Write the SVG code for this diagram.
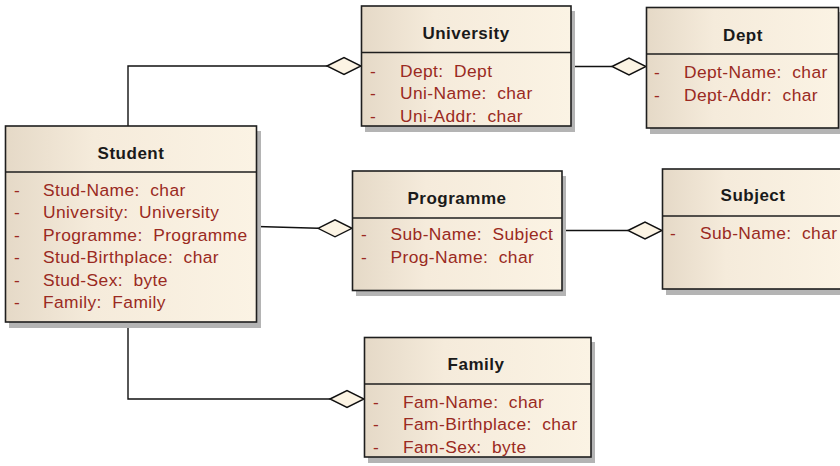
<svg xmlns="http://www.w3.org/2000/svg" width="840" height="466" viewBox="0 0 840 466">
<defs>
<linearGradient id="g" x1="0" y1="0" x2="1" y2="0">
<stop offset="0" stop-color="#e5d9c7"/>
<stop offset="0.35" stop-color="#f5ebdb"/>
<stop offset="1" stop-color="#fbf3e4"/>
</linearGradient>
</defs>
<style>
.box{fill:url(#g);stroke:#1e1e1e;stroke-width:1.6}
.sh{fill:#b4b4b4}
.div{stroke:#1e1e1e;stroke-width:1.6}
.t{font-family:"Liberation Sans",Arial,sans-serif;font-size:17px;font-weight:bold;fill:#1a1a1a;text-anchor:middle;letter-spacing:0.5px}
.a{font-family:"Liberation Sans",Arial,sans-serif;font-size:17.4px;fill:#9a2a22;white-space:pre;letter-spacing:0.4px}
.c{fill:none;stroke:#111;stroke-width:1.4}
.d{fill:#fcf4e4;stroke:#111;stroke-width:1.4}
</style>
<rect width="840" height="466" fill="#ffffff"/>

<g id="connectors">
<polyline class="c" points="128,126 128,66 327,66"/>
<polygon class="d" points="327,66 344,57.5 361,66 344,74.5"/>
<line class="c" x1="571" y1="66.5" x2="612" y2="66.5"/>
<polygon class="d" points="612,66.5 629,58 646,66.5 629,75"/>
<line class="c" x1="257" y1="226.5" x2="318" y2="228.3"/>
<polygon class="d" points="318,228.3 335,219.8 352,228.3 335,236.8"/>
<line class="c" x1="562" y1="230.5" x2="628" y2="230.5"/>
<polygon class="d" points="628,230.5 645,222 662,230.5 645,239"/>
<polyline class="c" points="128,322 128,399 330,399"/>
<polygon class="d" points="330,399 347,390.5 364,399 347,407.5"/>
</g>

<g id="student">
<rect class="sh" x="9" y="131" width="252" height="197"/>
<rect class="box" x="5.5" y="126" width="251" height="196"/>
<line class="div" x1="5.5" y1="172" x2="256.5" y2="172"/>
<text class="t" x="131" y="158.5">Student</text>
<text class="a" x="14" y="195.5">-</text><text class="a" x="43" y="195.5">Stud-Name:  char</text>
<text class="a" x="14" y="218">-</text><text class="a" x="43" y="218">University:  University</text>
<text class="a" x="14" y="240.5">-</text><text class="a" x="43" y="240.5">Programme:  Programme</text>
<text class="a" x="14" y="263">-</text><text class="a" x="43" y="263">Stud-Birthplace:  char</text>
<text class="a" x="14" y="285.5">-</text><text class="a" x="43" y="285.5">Stud-Sex:  byte</text>
<text class="a" x="14" y="308">-</text><text class="a" x="43" y="308">Family:  Family</text>
</g>

<g id="university">
<rect class="sh" x="365" y="11" width="210" height="121"/>
<rect class="box" x="361.5" y="6" width="209.5" height="120"/>
<line class="div" x1="361.5" y1="52.5" x2="571" y2="52.5"/>
<text class="t" x="466" y="38.5">University</text>
<text class="a" x="370" y="77">-</text><text class="a" x="400" y="77">Dept:  Dept</text>
<text class="a" x="370" y="99">-</text><text class="a" x="400" y="99">Uni-Name:  char</text>
<text class="a" x="370" y="121.5">-</text><text class="a" x="400" y="121.5">Uni-Addr:  char</text>
</g>

<g id="dept">
<rect class="sh" x="650" y="12" width="200" height="122"/>
<rect class="box" x="646.5" y="7.5" width="192" height="120.5"/>
<line class="div" x1="646.5" y1="54" x2="838.5" y2="54"/>
<text class="t" x="743" y="40.5">Dept</text>
<text class="a" x="654" y="77.5">-</text><text class="a" x="684" y="77.5">Dept-Name:  char</text>
<text class="a" x="654" y="100.5">-</text><text class="a" x="684" y="100.5">Dept-Addr:  char</text>
</g>

<g id="programme">
<rect class="sh" x="356" y="176" width="210" height="120"/>
<rect class="box" x="352.5" y="171" width="209.5" height="119.5"/>
<line class="div" x1="352.5" y1="218" x2="562" y2="218"/>
<text class="t" x="457" y="203.5">Programme</text>
<text class="a" x="361" y="240">-</text><text class="a" x="390.5" y="240">Sub-Name:  Subject</text>
<text class="a" x="361" y="263">-</text><text class="a" x="390.5" y="263">Prog-Name:  char</text>
</g>

<g id="subject">
<rect class="sh" x="666" y="174" width="190" height="121"/>
<rect class="box" x="662.5" y="169" width="182" height="120"/>
<line class="div" x1="662.5" y1="216" x2="844" y2="216"/>
<text class="t" x="753" y="201">Subject</text>
<text class="a" x="670" y="238.5">-</text><text class="a" x="700" y="238.5">Sub-Name:  char</text>
</g>

<g id="family">
<rect class="sh" x="368" y="342" width="227" height="121"/>
<rect class="box" x="364.5" y="337.5" width="226.5" height="119.5"/>
<line class="div" x1="364.5" y1="384" x2="591" y2="384"/>
<text class="t" x="476" y="369.5">Family</text>
<text class="a" x="373" y="407.5">-</text><text class="a" x="403" y="407.5">Fam-Name:  char</text>
<text class="a" x="373" y="430">-</text><text class="a" x="403" y="430">Fam-Birthplace:  char</text>
<text class="a" x="373" y="452.5">-</text><text class="a" x="403" y="452.5">Fam-Sex:  byte</text>
</g>
</svg>
